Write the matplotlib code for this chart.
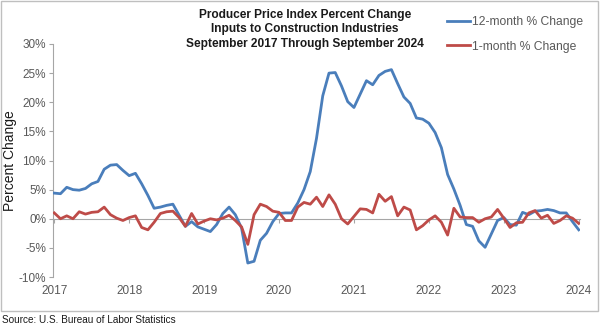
import matplotlib
matplotlib.use("Agg")
import matplotlib.pyplot as plt
from matplotlib.patches import Rectangle

plt.rcParams["font.family"] = ["Liberation Sans", "DejaVu Sans"]

# monthly values, Sep 2017 .. Sep 2024 (85 months)
twelve_month = [
    4.4, 4.3, 5.4, 5.0, 4.9, 5.2, 6.0, 6.4, 8.5, 9.2, 9.3, 8.3,
    7.4, 7.8, 6.0, 4.0, 1.8, 2.0, 2.3, 2.5, 0.6, -1.3, -0.5, -1.4,
    -1.8, -2.2, -1.0, 0.9, 2.0, 0.7, -1.6, -7.6, -7.3, -3.7, -2.5, -0.5,
    0.9, 1.0, 1.0, 2.7, 5.0, 8.1, 13.8, 21.1, 25.0, 25.1, 22.8, 20.1,
    19.1, 21.4, 23.7, 23.0, 24.6, 25.3, 25.6, 23.2, 20.9, 19.8, 17.3, 17.1,
    16.4, 14.8, 12.2, 7.6, 5.1, 2.3, -1.0, -1.3, -3.8, -4.9, -2.6, -0.3,
    0.2, -1.0, -1.1, 1.1, 0.7, 1.3, 1.4, 1.6, 1.4, 1.0, 1.0, -0.5,
    -1.9,
]
one_month = [
    1.0, 0.0, 0.5, 0.0, 1.2, 0.8, 1.1, 1.2, 2.0, 0.7, 0.1, -0.3,
    0.2, 0.5, -1.5, -1.9, -0.6, 0.9, 1.2, 1.3, 0.2, -1.3, 0.9, -0.9,
    -0.4, 0.0, -0.2, 0.1, 0.6, -0.3, -1.4, -4.4, 0.7, 2.5, 2.1, 1.3,
    1.1, -0.3, -0.3, 2.0, 2.8, 2.5, 3.7, 2.1, 4.1, 2.5, 0.0, -0.9,
    0.4, 1.7, 1.6, 1.0, 4.2, 3.0, 3.8, 0.5, 2.0, 1.5, -1.9, -1.2,
    -0.2, 0.5, -0.6, -2.8, 1.8, 0.3, 0.2, 0.2, -0.6, 0.0, 0.3, 1.6,
    0.1, -1.5, -0.7, -0.6, 1.0, 1.4, 0.1, 0.6, -0.8, -0.3, 0.5, 0.1,
    -0.8,
]
months = list(range(len(twelve_month)))
year_labels = ["2017", "2018", "2019", "2020", "2021", "2022", "2023", "2024"]
year_ticks = [12 * k for k in range(len(year_labels))]
y_ticks = [-10, -5, 0, 5, 10, 15, 20, 25, 30]

BLUE = "#4a7ebb"
RED = "#be4b48"
GRID = "#a6a6a6"
TXT = "#595959"

W, H = 600, 328
fig = plt.figure(figsize=(W / 100, H / 100), dpi=100)

# chart frame
fig.patches.append(Rectangle((1 / W, 1 - 311 / H), 597 / W, 310 / H,
                             transform=fig.transFigure, fill=False,
                             edgecolor="#bfbfbf", linewidth=1.0))

ax = fig.add_axes([53 / W, 1 - 277 / H, 527 / W, 233 / H])
ax.plot(months, twelve_month, color=BLUE, lw=2.0, label="12-month % Change",
        solid_joinstyle="round", zorder=3)
ax.plot(months, one_month, color=RED, lw=2.0, label="1-month % Change",
        solid_joinstyle="round", zorder=4)

ax.set_xlim(-0.2, 84.2)
ax.set_ylim(-10, 30)
ax.set_yticks(y_ticks)
ax.set_yticklabels([f"{v}%" for v in y_ticks])
ax.tick_params(axis="y", direction="out", length=3, width=0.8, color=GRID,
               labelsize=8.5, labelcolor=TXT, pad=2)

for side in ("top", "right"):
    ax.spines[side].set_visible(False)
ax.spines["left"].set_color(GRID)
ax.spines["left"].set_linewidth(0.8)

# horizontal axis runs through zero, year labels sit below the plot
ax.spines["bottom"].set_position(("data", 0))
ax.spines["bottom"].set_color(GRID)
ax.spines["bottom"].set_linewidth(0.8)
ax.set_xticks(year_ticks)
ax.tick_params(axis="x", direction="out", length=3, width=0.8, color=GRID,
               labelbottom=False)
sec = ax.secondary_xaxis("bottom")
sec.set_xticks(year_ticks)
sec.set_xticklabels(year_labels)
sec.tick_params(length=0, labelsize=8.5, labelcolor=TXT, pad=6)
sec.spines["bottom"].set_visible(False)

ax.set_ylabel("Percent Change", fontsize=10, color="#1a1a1a", labelpad=1)

fig.text(305 / W, 1 - 9 / H,
         "Producer Price Index Percent Change\n"
         "Inputs to Construction Industries\n"
         "September 2017 Through September 2024",
         ha="center", va="top", fontsize=8.6, fontweight="bold",
         color="#1a1a1a", linespacing=1.25)

fig.legend(loc="upper left", bbox_to_anchor=(442 / W, 1 - 11 / H),
           frameon=False, fontsize=8.7, labelcolor=TXT, handlelength=1.9,
           handletextpad=0.15, labelspacing=1.05, borderaxespad=0)

fig.text(2 / W, 1 - 320 / H, "Source: U.S. Bureau of Labor Statistics",
         ha="left", va="center", fontsize=7.2, color="#1a1a1a")

fig.savefig("out.png", dpi=100)
